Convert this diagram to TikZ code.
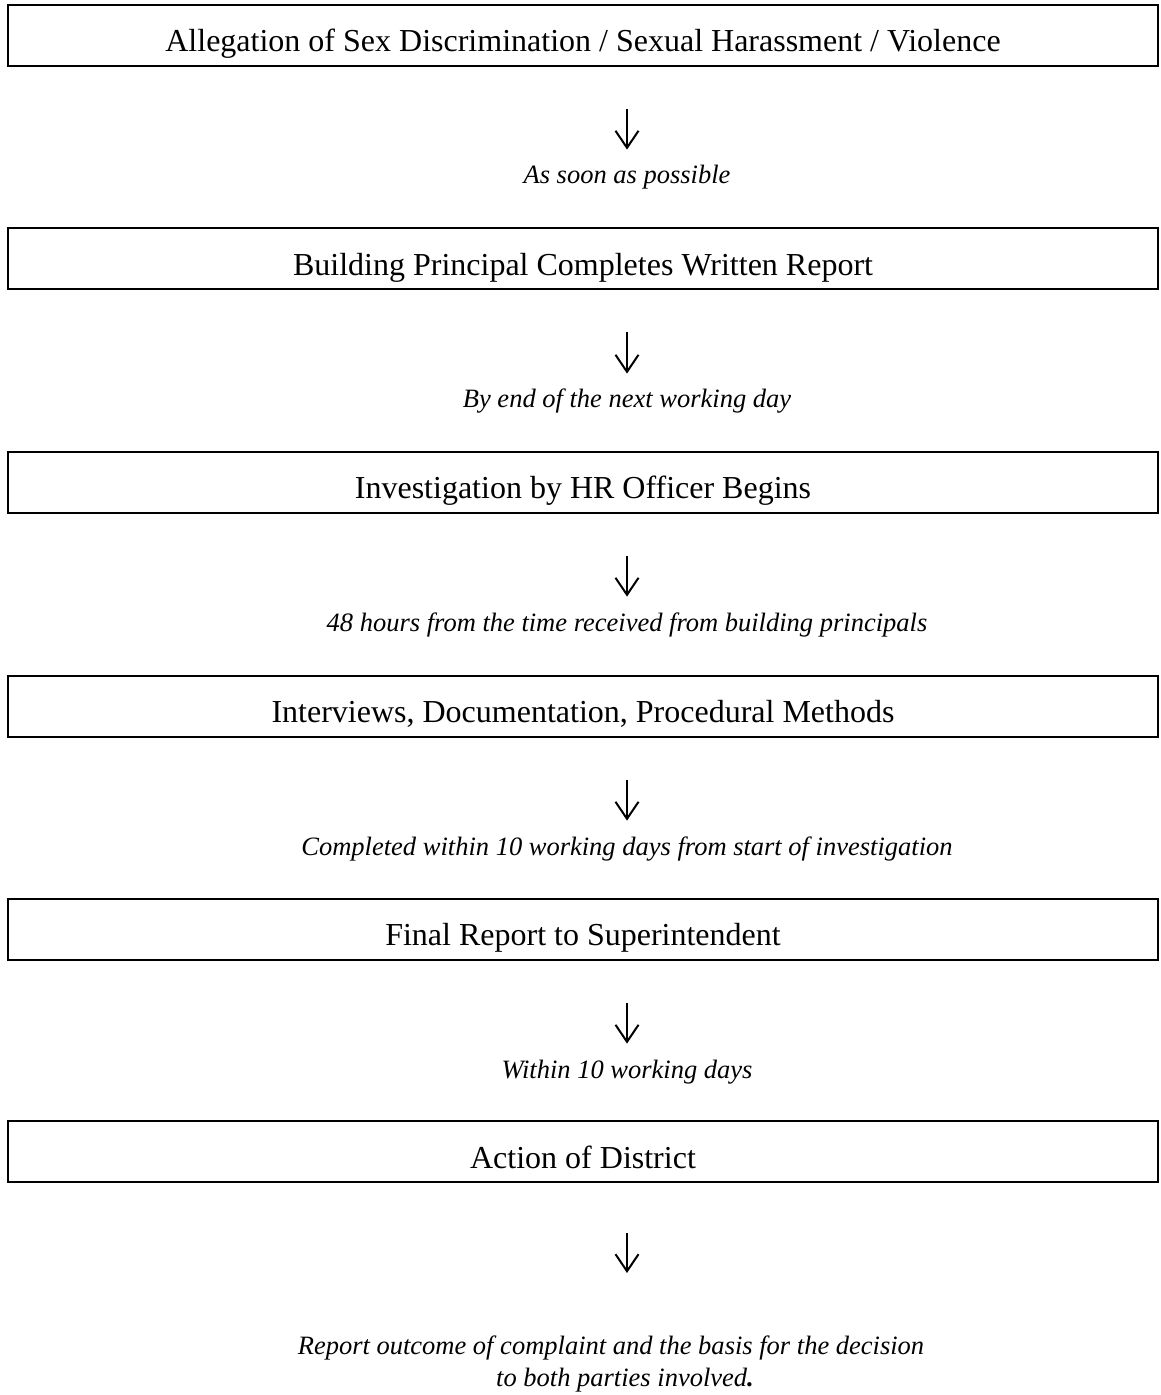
\documentclass[tikz,border=0pt]{standalone}
\usepackage{fontspec}
\setmainfont{Liberation Serif}
\usetikzlibrary{arrows.meta}

\begin{document}
\begin{tikzpicture}[x=0.5pt,y=-0.5pt,
    stage/.style={draw, line width=1pt, minimum width=575pt, minimum height=30.5pt,
      inner sep=0pt, text height=16.5pt, text depth=0pt, font=\fontsize{16}{19}\selectfont},
    timing/.style={anchor=base, inner sep=0pt, text height=9pt, font=\fontsize{13.25}{17}\selectfont\itshape},
    flowarrow/.style={line width=1pt, -{Straight Barb[length=8.5pt,width=11.5pt]}}]
  \useasboundingbox (0,0) rectangle (1160,1395);

  % Draw stages
  \node[stage] (allegation) at (583,35.5) {Allegation of Sex Discrimination / Sexual Harassment / Violence};
  \node[stage] (writtenrep) at (583,259) {Building Principal Completes Written Report};
  \node[stage] (hrinvest) at (583,482) {Investigation by HR Officer Begins};
  \node[stage] (interviews) at (583,706) {Interviews, Documentation, Procedural Methods};
  \node[stage] (finalrep) at (583,929) {Final Report to Superintendent};
  \node[stage] (district) at (583,1151.5) {Action of District};

  % Time limits
  \node[timing] (t1) at (627,184) {As soon as possible};
  \node[timing] (t2) at (627,408) {By end of the next working day};
  \node[timing] (t3) at (627,631) {48 hours from the time received from building principals};
  \node[timing] (t4) at (627,855) {Completed within 10 working days from start of investigation};
  \node[timing] (t5) at (627,1078) {Within 10 working days};
  \node[timing, anchor=north, align=center] (t6) at (611,1368)
    {Report outcome of complaint and the basis for the decision\\[-1pt]
     \hspace*{14pt}to both parties involved\textbf{.}};

  % Arrows
  \draw[flowarrow] ([yshift=-21pt]allegation.south -| t1.north) -- ([yshift=8pt]t1.north);
  \draw[flowarrow] ([yshift=-21pt]writtenrep.south -| t2.north) -- ([yshift=8pt]t2.north);
  \draw[flowarrow] ([yshift=-21pt]hrinvest.south -| t3.north) -- ([yshift=8pt]t3.north);
  \draw[flowarrow] ([yshift=-21pt]interviews.south -| t4.north) -- ([yshift=8pt]t4.north);
  \draw[flowarrow] ([yshift=-21pt]finalrep.south -| t5.north) -- ([yshift=8pt]t5.north);
  \draw[flowarrow] ([yshift=-25pt]district.south -| 627,0) -- ([yshift=-45pt]district.south -| 627,0);
\end{tikzpicture}
\end{document}
